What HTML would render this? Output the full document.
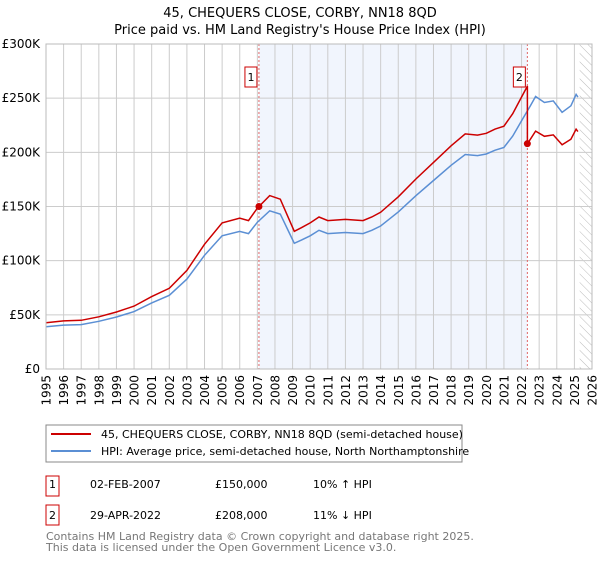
<!DOCTYPE html>
<html><head><meta charset="utf-8"><style>
body{margin:0;background:#fff;font-family:"Liberation Sans","DejaVu Sans",sans-serif;}
svg text{font-family:"DejaVu Sans","Liberation Sans",sans-serif;}
</style></head><body>
<svg id="chart" width="600" height="560" viewBox="0 0 600 560" xmlns="http://www.w3.org/2000/svg">
<text x="300" y="17" text-anchor="middle" font-size="13" fill="#000">45, CHEQUERS CLOSE, CORBY, NN18 8QD</text>
<text x="300" y="34" text-anchor="middle" font-size="13" fill="#000">Price paid vs. HM Land Registry's House Price Index (HPI)</text>
<defs><pattern id="hatch" width="6" height="6" patternUnits="userSpaceOnUse" patternTransform="rotate(-45)"><line x1="0" y1="0" x2="0" y2="6" stroke="#bbb" stroke-width="1"/></pattern></defs>
<g id="plot"></g>
<g>
<rect x="46" y="425" width="416" height="37" fill="#fff" stroke="#888"/>
<line x1="51" y1="434" x2="91" y2="434" stroke="#cc0000" stroke-width="2"/>
<text x="101" y="438" font-size="11">45, CHEQUERS CLOSE, CORBY, NN18 8QD (semi-detached house)</text>
<line x1="51" y1="451" x2="91" y2="451" stroke="#5b8fd4" stroke-width="2"/>
<text x="101" y="455" font-size="11">HPI: Average price, semi-detached house, North Northamptonshire</text>
</g>
<g font-size="11">
<rect x="46" y="476" width="13" height="20" fill="#fff" stroke="#cc0000"/>
<text x="52.5" y="488" text-anchor="middle">1</text>
<text x="90" y="488">02-FEB-2007</text><text x="215" y="488">£150,000</text><text x="313" y="488">10% ↑ HPI</text>
<rect x="46" y="505" width="13" height="20" fill="#fff" stroke="#cc0000"/>
<text x="52.5" y="519" text-anchor="middle">2</text>
<text x="90" y="519">29-APR-2022</text><text x="215" y="519">£208,000</text><text x="313" y="519">11% ↓ HPI</text>
</g>
<text x="46" y="540" font-size="11" fill="#777">Contains HM Land Registry data © Crown copyright and database right 2025.</text>
<text x="46" y="551" font-size="11" fill="#777">This data is licensed under the Open Government Licence v3.0.</text>
</svg>
<script>
const hpiYears=[1995,1996,1997,1998,1999,2000,2001,2002,2003,2004,2005,2006,2006.5,2007,2007.7,2008.3,2008.8,2009.1,2009.5,2010,2010.5,2011,2012,2013,2013.5,2014,2015,2016,2017,2018,2018.8,2019.5,2020,2020.5,2021,2021.5,2022,2022.5,2022.8,2023.3,2023.8,2024.3,2024.8,2025.1,2025.2];
const hpiValues=[39,40.5,41,44,48,53,61,68,83,105,123,127,125,135.5,146,143,126,116,119,123,128,125,126,125,128,132,145,160,174,188,198,197,198.5,202,204.5,215,229,243,251.5,246,247.5,237,243,253.5,251];
const saleYears=[2007.09,2022.33];
const salePrices=[150,208];
const saleLabels=["1","2"];
const yTicks=[0,50,100,150,200,250,300];
const yTickLabels=["£0","£50K","£100K","£150K","£200K","£250K","£300K"];
const xTicks=[1995,1996,1997,1998,1999,2000,2001,2002,2003,2004,2005,2006,2007,2008,2009,2010,2011,2012,2013,2014,2015,2016,2017,2018,2019,2020,2021,2022,2023,2024,2025,2026];
const hatchStart=2025.3;

const NS="http://www.w3.org/2000/svg";
const X0=46,X1=592,Y0=369,Y1=44;
const xs=y=>X0+(y-1995)/(2026-1995)*(X1-X0);
const ys=v=>Y0-v/300*(Y0-Y1);
const g=document.getElementById('plot');
function mk(t,a){const e=document.createElementNS(NS,t);for(const k in a)e.setAttribute(k,a[k]);g.appendChild(e);return e;}
function hpiAt(y){for(let i=0;i<hpiYears.length-1;i++){if(y<=hpiYears[i+1]){const t=(y-hpiYears[i])/(hpiYears[i+1]-hpiYears[i]);return hpiValues[i]+t*(hpiValues[i+1]-hpiValues[i]);}}return hpiValues[hpiValues.length-1];}

let r=mk('rect',{x:xs(saleYears[0]),y:Y1,width:xs(saleYears[1])-xs(saleYears[0]),height:Y0-Y1,fill:'#eef3fc',opacity:0.8});

r=mk('rect',{x:xs(hatchStart),y:Y1,width:X1-xs(hatchStart),height:Y0-Y1,fill:'url(#hatch)'});

xTicks.forEach(t=>{const l=mk('line',{x1:xs(t),x2:xs(t),y1:Y1,y2:Y0,stroke:'#ccc','stroke-width':1});

const tx=mk('text',{x:0,y:0,'text-anchor':'end','font-size':12,transform:'translate('+(xs(t)+4.5).toFixed(1)+','+(Y0+6)+') rotate(-90)'});tx.textContent=t;
});
yTicks.forEach((t,i)=>{const l=mk('line',{x1:X0,x2:X1,y1:ys(t),y2:ys(t),stroke:'#ccc','stroke-width':1});

const tx=mk('text',{x:X0-6,y:ys(t)+4,'text-anchor':'end','font-size':12});tx.textContent=yTickLabels[i];
});
saleYears.forEach(s=>{const l=mk('line',{x1:xs(s),x2:xs(s),y1:Y1,y2:Y0,stroke:'#e06666','stroke-width':1,'stroke-dasharray':'2,2'});
});
let d=hpiYears.map((y,i)=>(i?'L':'M')+xs(y).toFixed(1)+','+ys(hpiValues[i]).toFixed(1)).join('');
let p=mk('path',{d:d,fill:'none',stroke:'#5b8fd4','stroke-width':1.5});

const f1=salePrices[0]/hpiAt(saleYears[0]),f2=salePrices[1]/hpiAt(saleYears[1]);
let pts=[];hpiYears.forEach((y,i)=>{if(y<saleYears[1])pts.push([y,hpiValues[i]*f1]);});
pts.push([saleYears[1],hpiAt(saleYears[1])*f1]);pts.push([saleYears[1],salePrices[1]]);
hpiYears.forEach((y,i)=>{if(y>saleYears[1])pts.push([y,hpiValues[i]*f2]);});
d=pts.map((q,i)=>(i?'L':'M')+xs(q[0]).toFixed(1)+','+ys(q[1]).toFixed(1)).join('');
p=mk('path',{d:d,fill:'none',stroke:'#cc0000','stroke-width':1.5});

saleYears.forEach((s,i)=>{const c=mk('circle',{cx:xs(s),cy:ys(salePrices[i]),r:3.5,fill:'#cc0000'});

const b=mk('rect',{x:xs(s)-14,y:67,width:12,height:20,fill:'#fff',stroke:'#cc0000'});

const t=mk('text',{x:xs(s)-8,y:81,'text-anchor':'middle','font-size':11});t.textContent=saleLabels[i];
});
r=mk('rect',{x:X0,y:Y1,width:X1-X0,height:Y0-Y1,fill:'none',stroke:'#bbb'});

</script>
</body></html>
